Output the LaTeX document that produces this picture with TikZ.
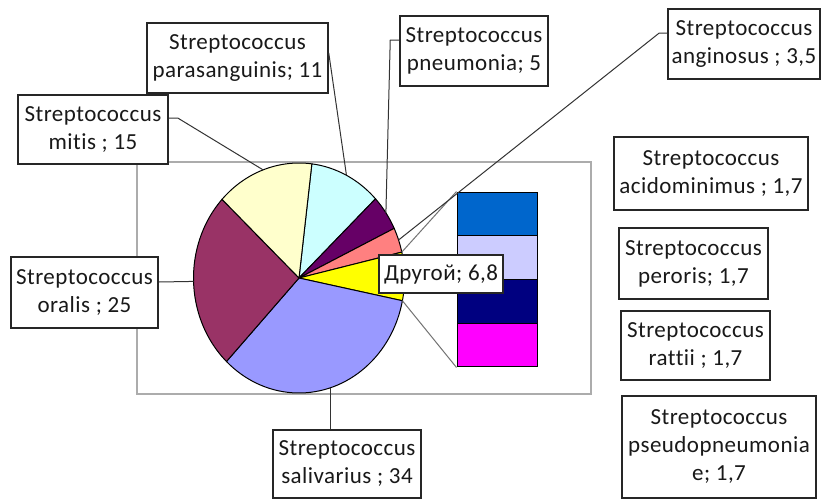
\documentclass[tikz,border=0pt]{standalone}
\usepackage{fontspec}
\setmainfont{Carlito}[Ligatures={NoCommon}, LetterSpace=2]
\usetikzlibrary{calc}
\definecolor{pcyan}{HTML}{CCFFFF}
\definecolor{ppurple}{HTML}{660066}
\definecolor{psalmon}{HTML}{FF8080}
\definecolor{pyellow}{HTML}{FFFF00}
\definecolor{pperi}{HTML}{9999FF}
\definecolor{pmaroon}{HTML}{993366}
\definecolor{plight}{HTML}{FFFFCC}
\definecolor{bblue}{HTML}{0066CC}
\definecolor{blav}{HTML}{CCCCFF}
\definecolor{bnavy}{HTML}{000080}
\definecolor{bmag}{HTML}{FF00FF}
\begin{document}
\begin{tikzpicture}[x=0.5pt,y=-0.5pt,
  lbl/.style={draw=black!85, line width=0.75pt, fill=white, align=center, inner sep=0pt, text=black!90, font=\fontsize{11.5}{14}\selectfont},
  leader/.style={draw=black!80, line width=0.5pt},
  conn/.style={draw=black!55, line width=0.5pt},
  barseg/.style={draw=black, line width=0.5pt, minimum width=40pt, minimum height=21.875pt, inner sep=0pt},
  slice/.style={draw=black, line width=0.5pt}]
\useasboundingbox (0,0) rectangle (821,499);
\fill[white] (0,0) rectangle (821,499);
% plot area
\draw[gray!65, line width=1pt] (137,162) rectangle (591,394);
% pie
\def\cx{299}\def\cy{278}\def\rx{105.5}\def\ry{115}
\foreach \a/\b/\c in {7/46.48/pcyan, 46.48/64.43/ppurple, 64.43/76.99/psalmon, 76.99/101.4/pyellow, 101.4/223.43/pperi, 223.43/313.16/pmaroon, 313.16/367/plight}{
  \filldraw[slice, fill=\c] (\cx,\cy) -- plot[domain=\a-90:\b-90, samples=50] ({\cx+\rx*cos(\x)},{\cy+\ry*sin(\x)}) -- cycle;
}
% named points on the pie rim
\coordinate (pmitis) at ({\cx+\rx*sin(340.1)},{\cy-\ry*cos(340.1)});
\coordinate (ppara) at ({\cx+\rx*sin(26.74)},{\cy-\ry*cos(26.74)});
\coordinate (ppneu) at ({\cx+\rx*sin(55.46)},{\cy-\ry*cos(55.46)});
\coordinate (pang) at ({\cx+\rx*sin(70.7)},{\cy-\ry*cos(70.7)});
\coordinate (poral) at ({\cx+\rx*sin(268.3)},{\cy-\ry*cos(268.3)});
\coordinate (psal) at ({\cx+\rx*sin(162.4)},{\cy-\ry*cos(162.4)});
\coordinate (pother1) at ({\cx+\rx*sin(76.99)},{\cy-\ry*cos(76.99)});
\coordinate (pother2) at ({\cx+\rx*sin(101.4)},{\cy-\ry*cos(101.4)});
% bar of pie
\node[barseg, fill=bblue] (bar1) at (497,213.9) {};
\node[barseg, fill=blav] (bar2) at (497,257.6) {};
\node[barseg, fill=bnavy] (bar3) at (497,301.4) {};
\node[barseg, fill=bmag] (bar4) at (497,345.1) {};
\draw[conn] (pother1) -- (bar1.north west);
\draw[conn] (pother2) -- (bar4.south west);
% labels
\node[lbl, minimum width=90.5pt, minimum height=35pt] (para) at (237.5,58) {Streptococcus\\parasanguinis; 11};
\node[lbl, minimum width=74pt, minimum height=35pt] (pneu) at (474,51) {Streptococcus\\pneumonia; 5};
\node[lbl, minimum width=76pt, minimum height=35pt] (ang) at (744,44) {Streptococcus\\anginosus ; 3,5};
\node[lbl, minimum width=75pt, minimum height=34.5pt] (mitis) at (93,129.5) {Streptococcus\\mitis ; 15};
\node[lbl, minimum width=73.5pt, minimum height=35.5pt] (oral) at (84.5,292.5) {Streptococcus\\oralis ; 25};
\node[lbl, minimum width=74pt, minimum height=34pt] (sal) at (347,464) {Streptococcus\\salivarius ; 34};
\node[lbl, minimum width=97pt, minimum height=36.5pt] (acid) at (711,173.5) {Streptococcus\\acidominimus ; 1,7};
\node[lbl, minimum width=74.5pt, minimum height=35.5pt] (peror) at (693.5,263.5) {Streptococcus\\peroris; 1,7};
\node[lbl, minimum width=74.5pt, minimum height=34.5pt] (rattii) at (695.5,345.5) {Streptococcus\\rattii ; 1,7};
\node[lbl, minimum width=97pt, minimum height=51pt] (pseudo) at (719,447) {Streptococcus\\pseudopneumonia\\e; 1,7};
\node[lbl, minimum width=62pt, minimum height=19pt] (other) at (441,274) {Другой; 6,8};
% leader lines
\draw[leader] (mitis.east) ++(0,-11.5) -- ++(9,0) -- (pmitis);
\draw[leader] (para.east) ++(0,-5) -- (ppara);
\draw[leader] (pneu.west) ++(0,-11) -- ++(-9,0) -- (ppneu);
\draw[leader] (ang.west) ++(0,-11) -- ++(-8,0) -- (pang);
\draw[leader] (oral.east) ++(0,-10.5) -- (poral);
\draw[leader] (psal) -- (psal |- sal.north);
\end{tikzpicture}
\end{document}
